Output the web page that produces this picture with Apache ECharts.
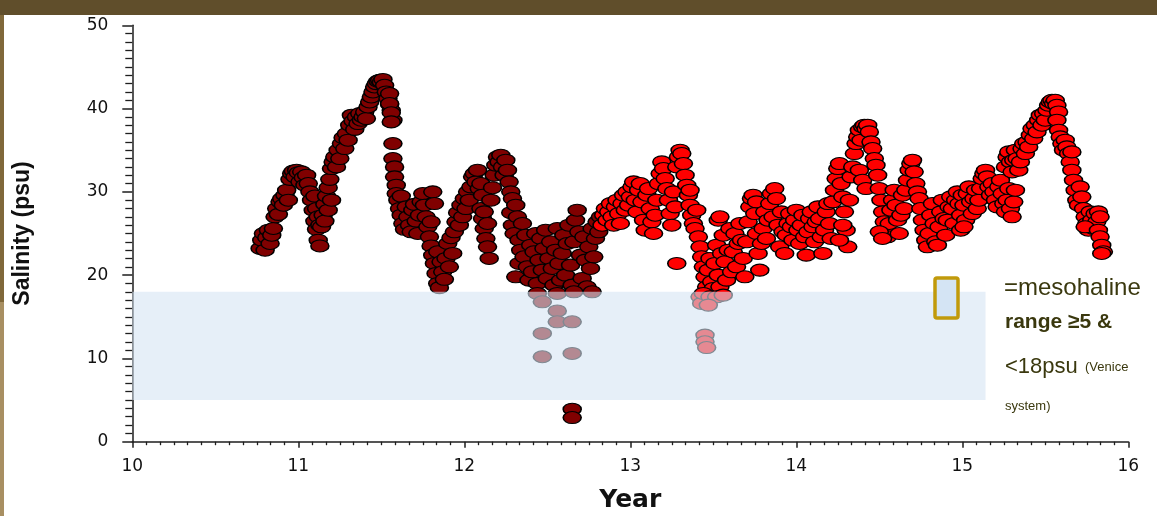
<!DOCTYPE html>
<html>
<head>
<meta charset="utf-8">
<script src="https://cdn.jsdelivr.net/npm/echarts@6/dist/echarts.min.js"></script>
<style>
  html, body { margin: 0; padding: 0; background: #fff; }
  #chart { width: 1157px; height: 516px; }
</style>
</head>
<body>
<div id="chart"></div>
<script>
// salinity readings, first period (dark red markers)
const darkPoints = [
  [10.77,23.2],[10.78,24.2],[10.79,25.0],[10.80,23.0],[10.81,24.5],[10.82,25.4],[10.83,23.8],[10.84,24.8],[10.85,25.6],
  [10.86,27.0],[10.87,28.0],[10.88,27.3],[10.89,28.8],[10.90,29.2],[10.91,28.4],[10.92,29.6],[10.93,30.2],[10.94,29.0],
  [10.95,31.5],[10.96,32.2],[10.97,32.5],[10.98,31.8],[10.99,32.6],[11.00,32.3],[11.01,31.2],[11.02,32.4],[11.03,31.7],
  [11.04,30.8],[11.05,32.0],[11.06,31.0],[11.07,30.0],
  [11.08,29.0],[11.09,27.8],[11.10,26.5],[11.11,25.5],[11.12,24.2],[11.13,23.5],[11.11,28.0],[11.12,27.0],[11.13,26.0],[11.10,29.5],
  [11.14,25.8],[11.15,27.2],[11.16,28.5],[11.17,29.5],[11.18,30.5],[11.19,31.5],[11.20,32.8],[11.21,33.6],[11.16,26.5],[11.18,27.8],[11.20,29.0],
  [11.22,34.2],[11.23,33.0],[11.24,35.0],[11.25,34.0],[11.26,35.8],[11.27,36.5],[11.28,35.2],[11.29,37.0],[11.30,36.2],
  [11.31,38.0],[11.32,39.2],[11.33,38.5],[11.34,37.5],[11.35,39.0],[11.36,38.2],[11.37,39.4],[11.38,38.6],[11.39,39.0],
  [11.40,39.6],[11.41,38.8],[11.42,40.2],[11.43,40.8],[11.44,41.4],
  [11.45,42.0],[11.46,42.6],[11.47,43.0],[11.48,43.3],[11.49,43.4],[11.50,43.2],[11.51,43.5],[11.52,42.8],[11.53,42.0],
  [11.54,41.2],[11.55,40.5],[11.56,39.8],[11.57,38.6],
  [11.55,41.8],[11.55,40.6],[11.56,39.5],[11.56,38.4],[11.57,35.8],[11.57,34.0],[11.58,33.0],[11.58,31.8],[11.59,30.8],[11.59,29.8],
  [11.60,29.0],[11.61,28.0],[11.62,27.2],[11.63,26.2],[11.64,25.5],[11.62,29.5],[11.65,28.2],
  [11.66,27.0],[11.67,26.0],[11.68,25.2],[11.69,27.8],[11.70,28.5],[11.71,26.5],[11.72,25.0],[11.73,27.2],[11.74,28.8],
  [11.75,29.8],[11.76,28.4],[11.77,27.0],[11.78,25.8],[11.79,24.6],[11.80,26.4],[11.81,30.0],[11.82,28.6],
  [11.80,23.5],[11.81,22.4],[11.82,21.4],[11.83,20.2],[11.84,19.0],[11.85,18.5],[11.84,22.8],[11.86,21.6],[11.87,20.4],
  [11.88,19.5],[11.89,22.0],[11.90,23.8],[11.91,21.0],[11.92,24.5],[11.93,22.6],
  [11.94,25.2],[11.95,26.4],[11.96,27.5],[11.97,26.0],[11.98,28.4],[11.99,27.0],[12.00,29.2],[12.01,28.0],[12.02,30.0],[12.03,29.0],
  [12.04,30.6],[12.05,31.8],[12.06,32.2],[12.07,31.2],[12.08,32.6],[12.09,30.4],[12.10,31.0],[12.11,29.6],
  [12.10,28.0],[12.11,26.8],[12.12,25.6],[12.13,24.4],[12.14,23.4],[12.15,22.0],[12.12,27.6],[12.14,26.2],
  [12.16,29.0],[12.17,30.5],[12.18,32.0],[12.19,33.2],[12.20,34.2],[12.21,33.6],[12.22,34.4],[12.23,33.0],[12.24,32.0],
  [12.25,33.8],[12.26,32.6],[12.27,31.2],[12.28,30.0],[12.29,29.2],
  [12.28,27.5],[12.29,26.0],[12.30,25.0],[12.31,28.4],[12.32,27.0],[12.33,24.2],[12.34,23.0],[12.35,26.2],[12.31,19.8],
  [12.33,21.4],[12.36,22.2],[12.37,24.8],
  [12.38,21.0],[12.39,19.4],[12.40,23.6],[12.41,20.4],[12.42,22.8],[12.43,25.0],[12.44,19.0],[12.45,21.8],[12.46,24.4],
  [12.47,20.6],[12.48,23.2],[12.49,25.4],[12.50,19.6],[12.51,22.0],[12.52,24.0],[12.53,20.8],[12.54,18.8],[12.55,23.0],
  [12.56,25.6],[12.57,21.4],
  [12.58,19.4],[12.59,22.6],[12.60,24.8],[12.61,20.0],[12.62,23.8],[12.63,26.0],[12.64,21.2],[12.65,18.8],[12.66,24.0],
  [12.67,26.6],[12.68,27.8],[12.69,25.2],[12.70,22.4],[12.71,19.6],[12.72,24.6],[12.73,21.8],[12.74,18.6],[12.75,23.4],
  [12.76,20.8],[12.77,25.6],[12.78,22.2],[12.79,24.4],[12.80,26.4],[12.81,25.2],[12.82,27.0],
  [12.44,17.8],[12.47,16.8],[12.56,15.7],[12.56,14.4],[12.65,14.4],[12.47,13.0],[12.47,10.2],[12.65,10.6],
  [12.56,17.8],[12.66,18.0],[12.77,18.0],[12.65,3.9],[12.65,2.9]
];

// salinity readings, second period (bright red markers)
const redPoints = [
  [12.83,26.0],[12.84,27.2],[12.85,28.0],[12.86,26.6],[12.87,27.6],[12.88,28.6],[12.89,27.0],[12.90,26.0],[12.91,28.2],
  [12.92,29.0],[12.93,27.4],[12.94,26.2],[12.95,28.6],[12.96,29.6],[12.97,27.8],[12.98,30.0],[12.99,28.4],
  [13.00,29.4],[13.01,30.6],[13.02,31.2],[13.03,29.0],[13.04,27.6],[13.05,30.2],[13.06,31.0],[13.07,28.8],[13.08,26.6],
  [13.09,25.4],[13.10,29.6],[13.11,30.4],[13.12,28.0],[13.13,26.4],[13.14,25.0],[13.15,27.2],[13.16,29.0],[13.17,31.0],
  [13.18,32.2],[13.19,33.6],[13.20,32.8],[13.21,31.6],[13.22,30.4],[13.23,29.0],[13.24,27.4],[13.25,26.0],[13.26,30.0],
  [13.27,28.2],[13.28,33.0],[13.29,34.2],[13.30,35.0],[13.31,34.6],[13.32,33.4],[13.33,32.0],[13.34,30.8],[13.35,29.6],
  [13.36,28.4],[13.28,21.4],
  [13.37,27.2],[13.38,26.2],[13.39,25.6],[13.40,27.8],[13.36,30.2],
  [13.41,24.6],[13.42,23.4],[13.43,22.2],[13.44,21.0],[13.45,19.8],[13.46,18.6],[13.47,20.6],[13.48,22.0],[13.49,19.2],
  [13.50,18.4],[13.51,21.4],[13.52,23.6],[13.53,20.0],[13.54,18.6],[13.55,22.6],[13.56,24.8],[13.57,21.6],[13.58,19.4],
  [13.42,17.4],[13.43,16.6],[13.44,17.8],[13.45,12.8],[13.45,12.0],[13.46,11.3],[13.48,17.4],[13.52,17.4],[13.56,17.6],[13.47,16.4],
  [13.53,26.6],[13.54,27.0],[13.59,23.0],[13.60,25.6],[13.61,20.4],[13.62,22.8],[13.63,25.0],[13.64,21.0],[13.65,23.8],
  [13.66,26.2],[13.67,24.2],[13.68,22.0],[13.69,19.8],[13.70,24.0],
  [13.71,26.4],[13.72,28.2],[13.73,29.2],[13.74,29.6],[13.75,27.4],[13.76,25.0],[13.77,22.6],[13.78,20.6],[13.76,28.8],
  [13.79,23.8],[13.80,25.6],[13.81,27.6],[13.82,24.4],[13.83,26.6],[13.84,28.6],[13.85,29.8],[13.86,27.0],[13.87,30.4],
  [13.88,29.2],[13.89,26.0],[13.90,23.4],[13.91,27.6],[13.92,25.2],[13.93,22.6],
  [13.94,24.8],[13.95,26.2],[13.96,27.4],[13.97,25.8],[13.98,24.2],[13.99,26.6],[14.00,27.8],[14.01,25.4],[14.02,23.8],
  [14.03,26.0],[14.04,27.2],[14.05,24.6],[14.06,22.4],[14.07,25.2],[14.08,26.8],[14.09,27.6],[14.10,25.8],[14.11,24.0],
  [14.12,26.4],[14.13,28.2],[14.14,26.8],[14.15,24.6],[14.16,22.6],[14.17,25.4],[14.18,27.6],[14.19,28.6],[14.20,26.2],[14.21,24.4],
  [14.22,28.8],[14.23,30.2],[14.24,31.6],[14.25,32.8],[14.26,33.4],[14.27,31.0],[14.28,29.4],[14.29,27.6],[14.30,25.4],
  [14.31,23.4],[14.32,29.0],[14.33,31.8],[14.34,33.0],[14.26,24.2],[14.28,26.0],
  [14.35,34.6],[14.36,35.8],[14.37,36.6],[14.38,37.4],[14.39,36.2],[14.40,37.8],[14.41,38.0],[14.42,37.6],[14.43,38.0],
  [14.44,37.2],[14.45,36.0],[14.38,32.6],[14.40,31.4],[14.42,30.4],
  [14.46,35.2],[14.47,34.0],[14.48,33.2],[14.49,32.0],[14.50,30.4],[14.51,29.0],[14.52,27.6],[14.53,26.4],[14.54,25.4],
  [14.55,24.6],[14.56,26.2],[14.50,25.2],[14.52,24.4],
  [14.57,27.8],[14.58,29.0],[14.59,30.2],[14.60,28.4],[14.61,26.6],[14.62,25.0],[14.63,27.2],[14.64,29.6],[14.65,28.0],
  [14.66,30.2],[14.67,31.4],[14.68,32.6],[14.69,33.4],[14.70,33.8],[14.71,32.4],[14.72,31.0],[14.73,30.0],[14.74,29.2],
  [14.75,28.0],[14.76,26.6],[14.77,25.4],[14.78,24.2],[14.79,23.4],[14.80,25.0],[14.81,27.2],[14.82,28.6],[14.83,26.2],
  [14.84,24.0],[14.85,23.6],[14.86,25.8],[14.87,27.6],[14.88,29.0],[14.89,26.8],[14.90,24.8],
  [14.91,26.6],[14.92,28.2],[14.93,29.4],[14.94,28.0],[14.95,26.2],[14.96,29.0],[14.97,30.0],[14.98,28.6],[14.99,27.2],
  [15.00,29.6],[15.01,28.4],[15.02,26.6],[15.03,29.8],[15.04,30.6],[15.05,28.8],[15.06,27.4],[15.07,29.2],[15.08,30.2],
  [15.09,28.0],[15.10,29.0],[14.99,25.4],[15.01,25.8],
  [15.11,30.4],[15.12,31.6],[15.13,32.2],[15.14,32.6],[15.15,31.8],[15.16,30.6],[15.17,29.6],[15.18,31.0],
  [15.19,30.0],[15.20,29.0],[15.21,28.2],[15.22,30.6],[15.23,31.4],[15.24,29.8],[15.25,28.6],[15.26,27.6],[15.27,29.0],
  [15.28,30.4],[15.29,28.0],[15.30,27.0],[15.31,28.8],[15.32,30.2],
  [15.26,33.0],[15.27,34.2],[15.28,34.8],[15.29,33.6],[15.30,32.4],[15.31,33.8],[15.32,35.0],[15.33,34.0],[15.34,32.6],
  [15.35,33.6],[15.36,35.2],[15.37,35.8],[15.38,34.6],[15.39,36.0],[15.40,35.4],
  [15.41,36.8],[15.42,37.6],[15.43,36.4],[15.44,38.0],[15.45,37.2],[15.46,38.6],[15.47,39.2],[15.48,38.0],[15.49,39.4],[15.50,38.6],
  [15.51,39.8],[15.52,40.4],[15.53,40.8],[15.54,41.0],[15.55,40.6],[15.56,41.0],[15.57,40.4],[15.58,39.6],
  [15.57,38.6],[15.58,37.4],[15.59,36.6],[15.60,35.8],[15.61,35.0],[15.62,36.2],[15.63,35.4],[15.64,34.6],[15.65,33.6],[15.66,34.8],
  [15.66,32.6],[15.67,31.4],[15.68,30.2],[15.69,29.0],[15.70,28.4],[15.71,30.6],[15.72,29.4],
  [15.73,28.0],[15.74,27.0],[15.75,26.2],[15.76,25.4],[15.77,27.6],[15.78,26.6],[15.79,25.6],[15.80,27.4],[15.81,26.4],[15.74,25.8],
  [15.82,27.6],[15.83,27.0],
  [15.82,25.4],[15.83,24.6],[15.84,23.6],[15.85,22.8],[15.84,22.6]
];

// mesohaline band: x extent (years) and salinity range
const bandYears = [10, 15.14];
const bandSalinity = [5, 18];

const legendLines = ['=mesohaline', 'range \u22655 &', '<18psu', '(Venice', 'system)'];

const chart = echarts.init(document.getElementById('chart'));

const axisColor = '#1e1e1e';
const legendColor = '#3a380e';

chart.setOption({
  animation: false,
  backgroundColor: '#fff',
  grid: { left: 132.3, right: 28.7, top: 25.3, bottom: 74.3, outerBoundsMode: 'none', containLabel: false },
  xAxis: {
    type: 'value', min: 10, max: 16, interval: 1,
    name: 'Year', nameLocation: 'middle', nameGap: 46,
    nameTextStyle: { fontFamily: 'DejaVu Sans', fontWeight: 'bold', fontSize: 25, color: '#111' },
    axisLine: { onZero: false, lineStyle: { color: axisColor, width: 1.5 } },
    axisTick: { length: 6, lineStyle: { color: axisColor, width: 1.5 } },
    minorTick: { show: true, splitNumber: 12, length: 3.5, lineStyle: { color: axisColor, width: 1.3 } },
    axisLabel: { fontFamily: 'DejaVu Sans', fontSize: 17, color: '#111', margin: 16 },
    splitLine: { show: false }
  },
  yAxis: {
    type: 'value', min: 0, max: 50, interval: 10,
    name: 'Salinity (psu)', nameLocation: 'middle', nameGap: 98, nameRotate: 90,
    nameTextStyle: { fontFamily: "'Liberation Sans Narrow', 'Arial Narrow', 'Liberation Sans', sans-serif", fontWeight: 'bold', fontSize: 23, color: '#111' },
    axisLine: { onZero: false, lineStyle: { color: axisColor, width: 1.5 } },
    axisTick: { length: 10, lineStyle: { color: axisColor, width: 1.5 } },
    minorTick: { show: true, splitNumber: 10, length: 7, lineStyle: { color: axisColor, width: 1.3 } },
    axisLabel: { fontFamily: 'DejaVu Sans', fontSize: 17, color: '#111', margin: 24 },
    splitLine: { show: false }
  },
  series: [
    {
      type: 'scatter', z: 2, data: darkPoints,
      symbol: 'circle', symbolSize: [18, 12],
      itemStyle: { color: '#800000', borderColor: '#000', borderWidth: 1.3, opacity: 1 }
    },
    {
      type: 'scatter', z: 3, data: redPoints,
      symbol: 'circle', symbolSize: [18, 12],
      itemStyle: { color: '#ff0000', borderColor: '#000', borderWidth: 1.3, opacity: 1 }
    },
    {
      type: 'scatter', z: 4, data: [],
      markArea: {
        silent: true, z: 10,
        itemStyle: { color: 'rgba(214,229,244,0.6)', borderWidth: 0 },
        data: [[
          { xAxis: bandYears[0], yAxis: bandSalinity[0] },
          { xAxis: bandYears[1], yAxis: bandSalinity[1] }
        ]]
      }
    }
  ],
  graphic: [
    { type: 'rect', z: 100, shape: { x: 0, y: 0, width: 1157, height: 15 }, style: { fill: '#604e2b' } },
    { type: 'rect', z: 100, shape: { x: 0, y: 15, width: 4, height: 287 }, style: { fill: '#80683a' } },
    { type: 'rect', z: 100, shape: { x: 0, y: 302, width: 4, height: 214 }, style: { fill: '#a88f62' } },
    { type: 'rect', z: 100, shape: { x: 935, y: 278, width: 23, height: 40, r: 2 },
      style: { fill: '#d4e4f4', stroke: '#c19a0b', lineWidth: 3.5 } },
    { type: 'text', z: 100, style: { x: 1004, y: 276, text: legendLines[0], fill: legendColor,
      font: "24px 'Liberation Sans', sans-serif", verticalAlign: 'top' } },
    { type: 'text', z: 100, style: { x: 1005, y: 312, text: legendLines[1], fill: legendColor,
      font: "bold 21px 'Liberation Sans', sans-serif", verticalAlign: 'top' } },
    { type: 'text', z: 100, style: { x: 1005, y: 356, text: legendLines[2], fill: legendColor,
      font: "22px 'Liberation Sans', sans-serif", verticalAlign: 'top' } },
    { type: 'text', z: 100, style: { x: 1085, y: 361, text: legendLines[3], fill: legendColor,
      font: "13px 'Liberation Sans', sans-serif", verticalAlign: 'top' } },
    { type: 'text', z: 100, style: { x: 1005, y: 400, text: legendLines[4], fill: legendColor,
      font: "13px 'Liberation Sans', sans-serif", verticalAlign: 'top' } }
  ]
});
</script>
</body>
</html>
